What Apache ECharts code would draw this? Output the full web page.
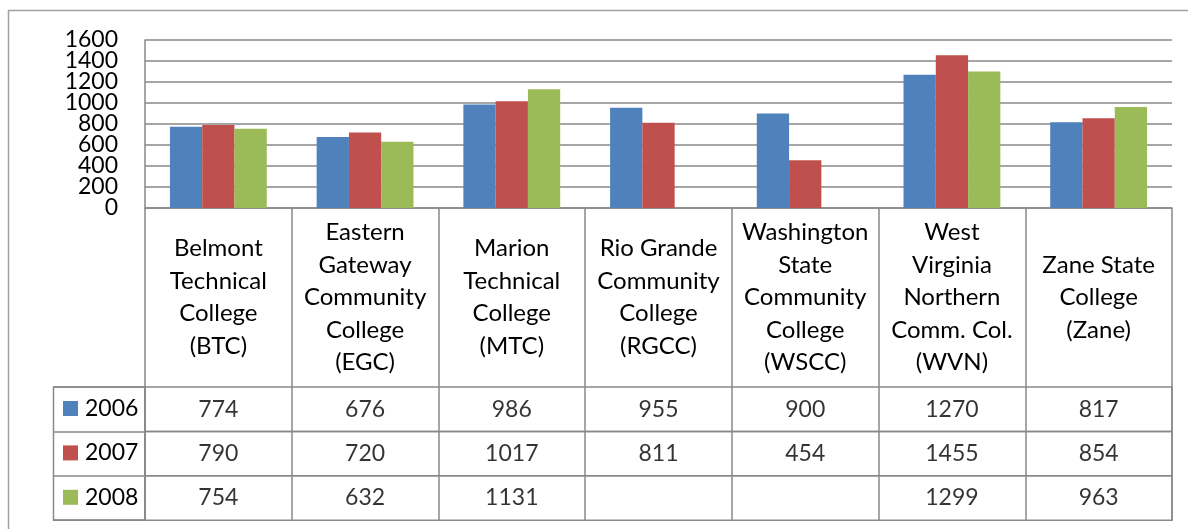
<!DOCTYPE html>
<html>
<head>
<meta charset="utf-8">
<script src="https://cdn.jsdelivr.net/npm/echarts@6/dist/echarts.min.js"></script>
<style>
html,body{margin:0;padding:0;background:#fff;}
#c{width:1188px;height:529px;}
</style>
</head>
<body>
<div id="c"></div>
<script>
const categories = [
  'Belmont\nTechnical\nCollege\n(BTC)',
  'Eastern\nGateway\nCommunity\nCollege\n(EGC)',
  'Marion\nTechnical\nCollege\n(MTC)',
  'Rio Grande\nCommunity\nCollege\n(RGCC)',
  'Washington\nState\nCommunity\nCollege\n(WSCC)',
  'West\nVirginia\nNorthern\nComm. Col.\n(WVN)',
  'Zane State\nCollege\n(Zane)'
];
const years = ['2006', '2007', '2008'];
const v2006 = [774, 676, 986, 955, 900, 1270, 817];
const v2007 = [790, 720, 1017, 811, 454, 1455, 854];
const v2008 = [754, 632, 1131, null, null, 1299, 963];
const yTickLabels = ['0', '200', '400', '600', '800', '1000', '1200', '1400', '1600'];
const yMin = 0, yMax = 1600, yStep = 200;

const seriesValues = [v2006, v2007, v2008];
const colors = ['#4F81BD', '#C0504D', '#9BBB59'];
const lineColor = '#898989';
const FONT = 'Lato';

const chart = echarts.init(document.getElementById('c'), null, {renderer: 'canvas'});

const rowTop = 387, rowH = 44.4;
const grids = [
  {left: 145, right: 16, top: 40, height: 168, containLabel: false}
];
for (let i = 0; i < 3; i++) {
  grids.push({left: 145, right: 16, top: rowTop + i * rowH, height: rowH, show: true,
    borderColor: lineColor, borderWidth: 1.5, backgroundColor: 'transparent'});
}
grids.push({left: 53.5, width: 91.5, top: rowTop, height: rowH * 3, show: true,
  borderColor: lineColor, borderWidth: 1.5, backgroundColor: 'transparent'});

const xAxes = [{
  type: 'category', gridIndex: 0, data: categories,
  axisLine: {lineStyle: {color: lineColor, width: 1.5}},
  axisTick: {show: true, length: 179, lineStyle: {color: lineColor, width: 1.5}},
  axisLabel: {interval: 0, color: '#000', fontFamily: FONT, fontSize: 24, lineHeight: 32.5,
    verticalAlign: 'middle', margin: 89.5, align: 'center'},
  splitLine: {show: false}
}];
const yAxes = [{
  type: 'value', gridIndex: 0, min: yMin, max: yMax, interval: yStep,
  axisLine: {show: true, lineStyle: {color: lineColor, width: 1.5}},
  axisTick: {show: false},
  axisLabel: {show: false},
  splitLine: {show: true, lineStyle: {color: lineColor, width: 1.5}}
}];
for (let i = 0; i < 3; i++) {
  xAxes.push({type: 'category', gridIndex: i + 1, data: categories,
    axisLine: {show: false}, axisTick: {show: false}, axisLabel: {show: false},
    splitLine: {show: true, lineStyle: {color: lineColor, width: 1.5}}});
  yAxes.push({type: 'value', gridIndex: i + 1, min: 0, max: 1, show: false});
}
xAxes.push({type: 'value', gridIndex: 4, show: false, min: 0, max: 1});
yAxes.push({type: 'category', gridIndex: 4, data: years, inverse: true,
  axisLine: {show: false}, axisTick: {show: false}, axisLabel: {show: false},
  splitLine: {show: true, lineStyle: {color: lineColor, width: 1.5}}});
// tick-label axis (index 5) for the value scale, evenly placed at the same ticks
yAxes.push({type: 'category', gridIndex: 0, data: yTickLabels, boundaryGap: false, position: 'left',
  axisLine: {show: false}, axisTick: {show: false}, splitLine: {show: false},
  axisLabel: {interval: 0, margin: 27, color: '#000', fontFamily: FONT, fontSize: 23}});

const series = [];
years.forEach((y, i) => {
  series.push({
    name: y, type: 'bar', xAxisIndex: 0, yAxisIndex: 0,
    data: seriesValues[i], barGap: '0%', barCategoryGap: '34%',
    itemStyle: {color: colors[i]}, silent: true
  });
});
years.forEach((y, i) => {
  const pts = [];
  seriesValues[i].forEach((v, k) => { if (v != null) pts.push([k, 0.5, v]); });
  series.push({
    name: 'row' + y, type: 'scatter', xAxisIndex: i + 1, yAxisIndex: i + 1,
    data: pts, symbolSize: 1, itemStyle: {color: 'rgba(0,0,0,0)'}, silent: true,
    label: {show: true, position: 'inside', formatter: p => String(p.value[2]),
      color: '#000', fontFamily: FONT, fontSize: 23}
  });
});

chart.setOption({
  animation: false,
  backgroundColor: '#fff',
  grid: grids,
  xAxis: xAxes,
  yAxis: yAxes,
  legend: {
    data: years, orient: 'vertical', left: 63, top: 397, padding: 0,
    icon: 'rect', itemWidth: 15, itemHeight: 15, itemGap: 21.4,
    selectedMode: false,
    textStyle: {color: '#000', fontFamily: FONT, fontSize: 23, lineHeight: 23, padding: [0, 0, 0, 2]}
  },
  graphic: [{
    type: 'rect', silent: true,
    shape: {x: 8.5, y: 10.5, width: 1200, height: 600},
    style: {fill: 'none', stroke: '#a0a0a0', lineWidth: 1.5}
  }],
  series: series
});
</script>
</body>
</html>
